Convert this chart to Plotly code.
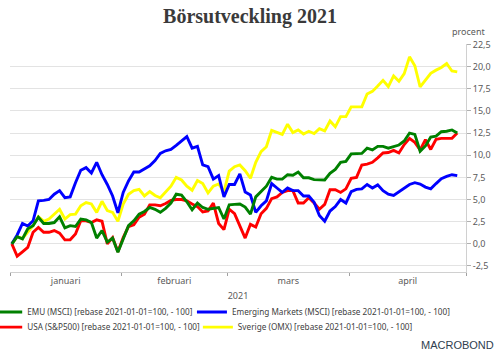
import numpy as np
import pandas as pd
import plotly.graph_objects as go

# ---- data (business days from 2021-01-01) ----
dates = pd.bdate_range("2021-01-01", periods=85)
month_labels = ["januari", "februari", "mars", "april"]
y_tick_values = [-2.5, 0.0, 2.5, 5.0, 7.5, 10.0, 12.5, 15.0, 17.5, 20.0, 22.5]

emu = [0, 0.8, 0.55, 1.7, 2.05, 3.0, 2.3, 2.3, 2.4, 3.05,
       1.8, 2.05, 1.95, 2.8, 2.7, 2.4, 0.65, 1.5, 0.2, 0.65,
       -0.95, 0.55, 2.05, 2.6, 3.35, 3.65, 4.1, 3.9, 3.55, 4.0,
       4.6, 5.6, 5.5, 4.75, 3.85, 4.6, 4.1, 3.9, 4.0, 4.1,
       2.8, 4.4, 4.45, 4.5, 4.15, 3.35, 5.3, 5.9, 6.5, 7.5,
       7.3, 7.3, 7.8, 7.75, 8.1, 7.45, 7.45, 7.25, 7.2, 7.2,
       7.95, 8.4, 9.2, 9.3, 10.15, 10.2, 10.2, 10.8, 10.6, 11.0,
       11.0, 10.8, 10.95, 11.15, 11.6, 12.5, 12.35, 10.45, 11.05, 12.05,
       12.15, 12.65, 12.7, 12.85, 12.5]

emerging = [0, 1.0, 2.3, 2.0, 2.6, 4.85, 4.9, 5.0, 5.6, 6.0,
            5.2, 5.3, 6.9, 8.3, 8.6, 8.0, 9.2, 7.8, 6.7, 5.4,
            3.5, 5.8, 7.1, 8.1, 8.1, 8.5, 8.8, 9.4, 10.2, 10.5,
            10.65, 11.1, 11.6, 12.1, 10.8, 11.0, 8.9, 8.7, 7.3, 7.7,
            5.3, 6.7, 6.7, 7.9, 5.85, 5.5, 3.55, 4.3, 4.85, 6.8,
            6.3, 5.8, 6.3, 6.0, 6.0, 5.4, 5.4, 4.7, 3.2, 2.55,
            3.7, 4.2, 5.0, 4.6, 5.9, 6.15, 6.2, 6.7, 6.3, 6.65,
            6.0, 5.6, 5.45, 5.9, 6.35, 6.7, 6.9, 6.75, 6.4, 6.2,
            6.8, 7.35, 7.6, 7.8, 7.7]

usa = [0, -1.4, -0.9, -0.4, 1.3, 1.85, 1.3, 1.3, 1.5, 1.2,
       0.45, 0.45, 1.1, 2.6, 2.6, 2.4, 2.7, 2.55, 0.0, 0.7,
       -0.9, 0.7, 1.95, 2.15, 3.0, 3.35, 4.4, 4.4, 4.3, 4.55,
       4.9, 5.0, 5.0, 4.85, 4.5, 4.2, 3.6, 3.7, 4.6, 2.3,
       1.6, 3.9, 3.4, 2.1, 0.65, 2.2, 1.9, 3.4, 4.0, 5.1,
       5.3, 5.8, 6.0, 6.0, 4.6, 4.6, 5.2, 4.6, 3.9, 4.45,
       6.1, 6.1, 5.8, 6.2, 7.4, 7.5, 8.9, 9.0, 9.2, 9.7,
       10.25, 10.3, 10.55, 10.25, 11.2, 11.9, 11.45, 10.6, 11.75, 10.65,
       11.8, 11.9, 11.9, 11.9, 12.5]

sverige = [0, 0.8, 0.6, 1.3, 2.05, 3.05, 2.55, 2.8, 3.3, 3.9,
           2.8, 3.3, 3.35, 4.3, 4.65, 4.5, 3.55, 4.8, 3.75, 3.55,
           2.55, 4.5, 5.6, 6.0, 6.15, 5.4, 5.9, 5.45, 5.2, 5.9,
           6.5, 7.5, 7.2, 6.5, 6.05, 7.15, 6.8, 5.75, 6.5, 6.75,
           5.9, 8.2, 8.7, 8.9, 8.25, 7.4, 9.2, 10.4, 10.95, 12.8,
           12.55, 12.35, 13.5, 12.55, 12.85, 12.4, 12.7, 12.45, 13.0, 12.75,
           13.85, 13.2, 14.35, 14.35, 15.45, 15.45, 15.45, 16.9, 17.2, 17.8,
           18.45, 17.75, 18.95, 18.35, 19.2, 21.1, 20.1, 17.7, 18.5, 19.25,
           19.6, 19.9, 20.35, 19.5, 19.4]

series_names = {
    "emu": "EMU (MSCI) [rebase 2021-01-01=100, - 100]",
    "emerging": "Emerging Markets (MSCI) [rebase 2021-01-01=100, - 100]",
    "usa": "USA (S&P500) [rebase 2021-01-01=100, - 100]",
    "sverige": "Sverige (OMX) [rebase 2021-01-01=100, - 100]",
}

# ---- axis helpers ----
x = np.arange(len(dates))
shift = 0.35
month_start_idx = [i for i in range(len(dates)) if i == 0 or dates[i].month != dates[i - 1].month]
all_bdays = pd.bdate_range("2021-01-01", "2021-05-03")
may_idx = int(np.searchsorted(all_bdays, pd.Timestamp("2021-05-01")))
bounds = [i - shift for i in month_start_idx] + [may_idx - shift]
mids = [(bounds[k] + bounds[k + 1]) / 2 for k in range(len(month_labels))]

font_family = "Noto Sans, Open Sans, sans-serif"
grey_text = "#5a5a5a"

fig = go.Figure()
# (key, values, colour, legend id) -- drawn in this order
traces = [
    ("sverige", sverige, "#ffff00", "legend4"),
    ("usa", usa, "#ff0000", "legend3"),
    ("emerging", emerging, "#0000ff", "legend2"),
    ("emu", emu, "#008000", "legend"),
]
for key, vals, color, leg in traces:
    fig.add_trace(go.Scatter(
        x=x, y=vals, mode="lines", name=series_names[key],
        line=dict(color=color, width=2.9), legend=leg,
    ))

legend_common = dict(orientation="h", xanchor="left", yanchor="top",
                     font=dict(size=8.2, color="#404040"), itemwidth=30,
                     bgcolor="rgba(0,0,0,0)")
row1_y, row2_y = -0.112, -0.178

fig.update_layout(
    width=500, height=355,
    margin=dict(l=10, r=34, t=44, b=83, autoexpand=False),
    paper_bgcolor="white", plot_bgcolor="white",
    font=dict(family=font_family, size=9, color=grey_text),
    title=dict(text="<b>Börsutveckling 2021</b>", x=0.5, xanchor="center",
               y=0.955, yanchor="middle",
               font=dict(family="Liberation Serif, serif", size=20, color="#3a3a3a")),
    showlegend=True,
    legend=dict(x=-0.05, y=row1_y, **legend_common),
    legend2=dict(x=0.399, y=row1_y, **legend_common),
    legend3=dict(x=-0.05, y=row2_y, **legend_common),
    legend4=dict(x=0.412, y=row2_y, **legend_common),
    xaxis=dict(
        range=[bounds[0], bounds[-1]],
        tickmode="array", tickvals=mids, ticktext=month_labels,
        ticks="", showgrid=False, zeroline=False,
        showline=True, linecolor="#d0d0d0", linewidth=1,
        tickfont=dict(size=9, color=grey_text),
        minor=dict(tickmode="array", tickvals=bounds, ticks="outside",
                   ticklen=3, tickcolor="#a0a0a0", showgrid=False),
        title=dict(text="2021", standoff=6, font=dict(size=9, color=grey_text)),
    ),
    yaxis=dict(
        side="right", range=[-3.18, 22.55],
        tickmode="array", tickvals=y_tick_values,
        ticktext=[f"{v:.1f}".replace(".", ",") for v in y_tick_values],
        ticks="outside", ticklen=4, tickcolor="#b0b0b0",
        showgrid=True, gridcolor="#e3e3e3", gridwidth=1,
        zeroline=False, showline=True, linecolor="#d0d0d0", linewidth=1,
        tickfont=dict(size=9, color=grey_text),
    ),
    annotations=[
        dict(text="procent", xref="paper", yref="paper", x=1.046, y=1.053,
             xanchor="right", yanchor="middle", showarrow=False,
             font=dict(size=9, color=grey_text)),
        dict(text="MACROBOND", xref="paper", yref="paper", x=1.066, y=-0.32,
             xanchor="right", yanchor="middle", showarrow=False,
             font=dict(family="Liberation Sans, Arial, sans-serif", size=11, color="#2f3e4e")),
    ],
)

fig.write_html("out.html", config={"displayModeBar": False},
               post_script="document.body.style.margin='0';")
